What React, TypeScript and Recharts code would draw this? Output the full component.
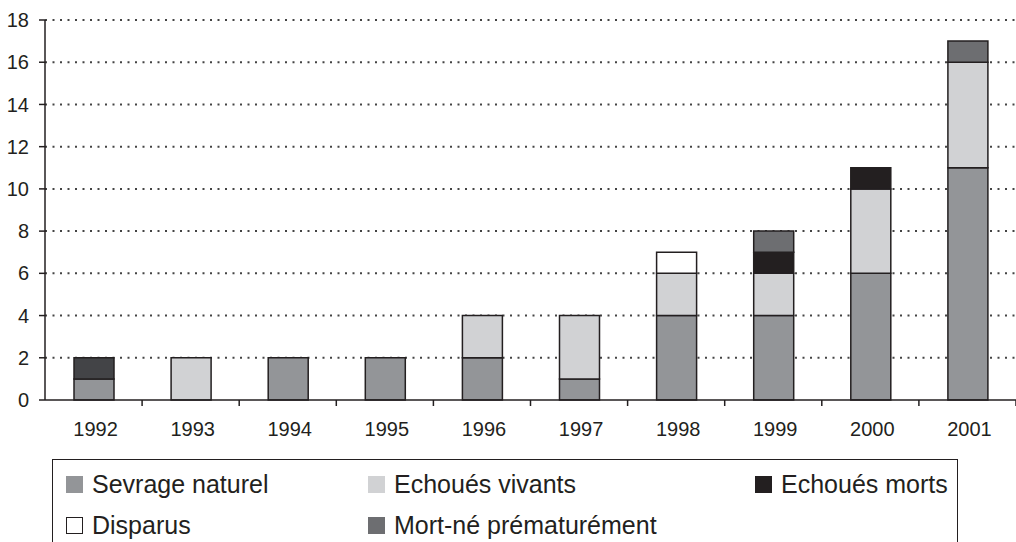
import { BarChart, Bar, XAxis, YAxis, CartesianGrid, Cell } from "recharts";

const years = ["1992", "1993", "1994", "1995", "1996", "1997", "1998", "1999", "2000", "2001"];
const sevrage = [1, 0, 2, 2, 2, 1, 4, 4, 6, 11];
const vivants = [0, 2, 0, 0, 2, 3, 2, 2, 4, 5];
const disparus = [0, 0, 0, 0, 0, 0, 1, 0, 0, 0];
const morts = [0, 0, 0, 0, 0, 0, 0, 1, 1, 0];
const mortNe = [1, 0, 0, 0, 0, 0, 0, 1, 0, 1];
const yTicks = [0, 2, 4, 6, 8, 10, 12, 14, 16, 18];

const series = [
  { key: "sevrage", name: "Sevrage naturel", color: "#939598" },
  { key: "vivants", name: "Echoués vivants", color: "#d1d2d4" },
  { key: "disparus", name: "Disparus", color: "#ffffff" },
  { key: "morts", name: "Echoués morts", color: "#231f20" },
  { key: "mortNe", name: "Mort-né prématurément", color: "#6d6e71" },
];

// legend order as printed (3 columns)
const legendOrder = ["sevrage", "vivants", "morts", "disparus", "mortNe"];

const data = years.map((y, i) => ({
  year: y,
  sevrage: sevrage[i],
  vivants: vivants[i],
  disparus: disparus[i],
  morts: morts[i],
  mortNe: mortNe[i],
}));

const FONT = "'Liberation Sans', Arial, sans-serif";
const INK = "#231f20";
const BAND = 97.1;

const XTick = (props: any) => {
  const { x, payload } = props;
  return (
    <g>
      <line x1={x + BAND / 2} x2={x + BAND / 2} y1={400} y2={406} stroke={INK} strokeWidth={1.5} />
      <text x={x + 2} y={436} textAnchor="middle" fontSize={20} fontFamily={FONT} fill={INK}>
        {payload.value}
      </text>
    </g>
  );
};

export default function App() {
  return (
    <div
      style={{
        position: "absolute",
        top: 0,
        left: 0,
        width: 1016,
        height: 542,
        overflow: "hidden",
        background: "#fff",
      }}
    >
      <BarChart
        width={1016}
        height={542}
        data={data}
        margin={{ top: 20, right: 0, left: 0, bottom: 112 }}
        barSize={40}
      >
        <CartesianGrid
          vertical={false}
          horizontalValues={[2, 4, 6, 8, 10, 12, 14, 16, 18]}
          stroke="#444"
          strokeWidth={2}
          strokeDasharray="2 5.5"
        />
        <XAxis
          dataKey="year"
          height={30}
          tick={<XTick />}
          tickLine={false}
          axisLine={{ stroke: INK, strokeWidth: 1.5 }}
          interval={0}
        />
        <YAxis
          width={45}
          domain={[0, 18]}
          ticks={yTicks}
          interval={0}
          tick={{ fontSize: 20, fontFamily: FONT, fill: INK }}
          tickSize={6}
          tickMargin={10}
          tickLine={{ stroke: INK, strokeWidth: 1.5 }}
          axisLine={{ stroke: INK, strokeWidth: 1.5 }}
        />
        {series.map((s) => (
          <Bar
            key={s.key}
            dataKey={s.key}
            name={s.name}
            stackId="a"
            fill={s.color}
            stroke={INK}
            strokeWidth={1.5}
            isAnimationActive={false}
          >
            {s.key === "mortNe"
              ? data.map((d, i) => <Cell key={i} fill={i === 0 ? "#434447" : s.color} />)
              : null}
          </Bar>
        ))}
      </BarChart>
      <div
        style={{
          position: "absolute",
          left: 52,
          top: 459,
          width: 906,
          height: 83,
          border: `1.5px solid ${INK}`,
          borderBottom: "none",
          boxSizing: "border-box",
          fontFamily: FONT,
          fontSize: 25,
          color: INK,
        }}
      >
        {legendOrder.map((k, i) => {
          const s = series.find((d) => d.key === k)!;
          const col = i % 3;
          const row = Math.floor(i / 3);
          const lefts = [13, 315, 702];
          return (
            <div
              key={k}
              style={{
                position: "absolute",
                left: lefts[col],
                top: 9 + row * 41,
                display: "flex",
                alignItems: "center",
                whiteSpace: "nowrap",
                lineHeight: "30px",
              }}
            >
              <span
                style={{
                  display: "inline-block",
                  width: 17,
                  height: 17,
                  background: s.color,
                  border: k === "disparus" ? `1px solid ${INK}` : "none",
                  boxSizing: "border-box",
                  marginRight: 9,
                }}
              />
              {s.name}
            </div>
          );
        })}
      </div>
    </div>
  );
}
